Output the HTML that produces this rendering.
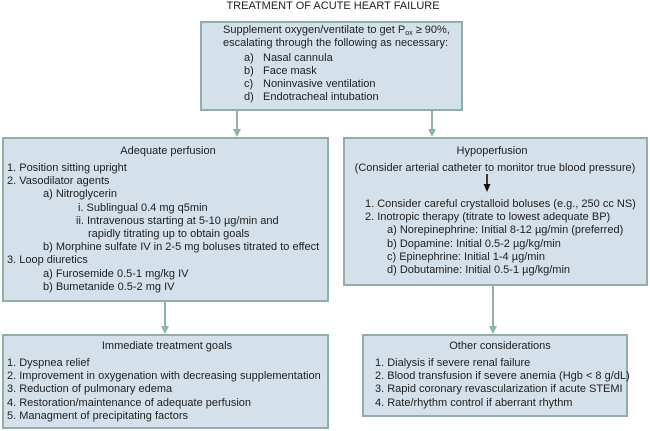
<!DOCTYPE html>
<html>
<head>
<meta charset="utf-8">
<style>
  html, body { margin:0; padding:0; }
  body { width:650px; height:431px; position:relative; background:#ffffff; overflow:hidden;
         font-family:"Liberation Sans", Arial, sans-serif; font-size:11px; color:#1e1e1e; }
  .box { position:absolute; box-sizing:border-box; background:#d4e0ea; border:2px solid #92aeaa; }
  .t { position:absolute; white-space:nowrap; line-height:13px; }
  .c { text-align:center; }
  sub { font-size:7px; vertical-align:-2px; line-height:0; }
  svg { position:absolute; left:0; top:0; }
</style>
</head>
<body>
  <!-- Title -->
  <div class="t c" style="left:183px; top:0px; width:300px;">TREATMENT OF ACUTE HEART FAILURE</div>

  <!-- Boxes -->
  <div class="box" style="left:200px; top:21px; width:263px; height:90px;"></div>
  <div class="box" style="left:2px; top:137px; width:327px; height:165px;"></div>
  <div class="box" style="left:343px; top:137px; width:305px; height:149px;"></div>
  <div class="box" style="left:2px; top:334px; width:327px; height:95px;"></div>
  <div class="box" style="left:362px; top:334px; width:266px; height:83px;"></div>

  <!-- Connectors -->
  <svg width="650" height="431" viewBox="0 0 650 431">
    <g stroke="#8fb2a9" stroke-width="2" fill="none">
      <line x1="237" y1="111" x2="237" y2="130"/>
      <line x1="432" y1="111" x2="432" y2="130"/>
      <line x1="165" y1="302" x2="165" y2="327"/>
      <line x1="493" y1="286" x2="493" y2="327"/>
    </g>
    <g fill="#8fb2a9">
      <polygon points="233,129 241,129 237,137"/>
      <polygon points="428,129 436,129 432,137"/>
      <polygon points="161,326 169,326 165,334"/>
      <polygon points="489,326 497,326 493,334"/>
    </g>
    <line x1="487" y1="174" x2="487" y2="185" stroke="#111" stroke-width="1.6"/>
    <polygon points="483.5,184 490.5,184 487,192" fill="#111"/>
  </svg>

  <!-- Top box text -->
  <div class="t" style="left:223px; top:24px;">Supplement oxygen/ventilate to get P<sub>ox</sub> &#8805; 90%,</div>
  <div class="t" style="left:223px; top:37px;">escalating through the following as necessary:</div>
  <div class="t" style="left:244px; top:52px;">a)</div><div class="t" style="left:263px; top:52px;">Nasal cannula</div>
  <div class="t" style="left:244px; top:65px;">b)</div><div class="t" style="left:263px; top:65px;">Face mask</div>
  <div class="t" style="left:244px; top:78px;">c)</div><div class="t" style="left:263px; top:78px;">Noninvasive ventilation</div>
  <div class="t" style="left:244px; top:90.5px;">d)</div><div class="t" style="left:263px; top:90.5px;">Endotracheal intubation</div>

  <!-- Adequate perfusion -->
  <div class="t c" style="left:68px; top:145px; width:200px;">Adequate perfusion</div>
  <div class="t" style="left:7px; top:162px;">1. Position sitting upright</div>
  <div class="t" style="left:7px; top:175.2px;">2. Vasodilator agents</div>
  <div class="t" style="left:43px; top:188.4px;">a) Nitroglycerin</div>
  <div class="t" style="left:78px; top:201.6px;">i. Sublingual 0.4 mg q5min</div>
  <div class="t" style="left:76px; top:214.8px;">ii. Intravenous starting at 5-10 &#181;g/min and</div>
  <div class="t" style="left:88px; top:228px;">rapidly titrating up to obtain goals</div>
  <div class="t" style="left:43px; top:241.2px;">b) Morphine sulfate IV in 2-5 mg boluses titrated to effect</div>
  <div class="t" style="left:7px; top:254.4px;">3. Loop diuretics</div>
  <div class="t" style="left:43px; top:267.6px;">a) Furosemide 0.5-1 mg/kg IV</div>
  <div class="t" style="left:43px; top:280.8px;">b) Bumetanide 0.5-2 mg IV</div>

  <!-- Hypoperfusion -->
  <div class="t c" style="left:392px; top:145px; width:200px;">Hypoperfusion</div>
  <div class="t c" style="left:345px; top:162px; width:300px;">(Consider arterial catheter to monitor true blood pressure)</div>
  <div class="t" style="left:365px; top:198px;">1. Consider careful crystalloid boluses (e.g., 250 cc NS)</div>
  <div class="t" style="left:365px; top:211.2px;">2. Inotropic therapy (titrate to lowest adequate BP)</div>
  <div class="t" style="left:387px; top:224.4px;">a) Norepinephrine: Initial 8-12 &#181;g/min (preferred)</div>
  <div class="t" style="left:387px; top:237.6px;">b) Dopamine: Initial 0.5-2 &#181;g/kg/min</div>
  <div class="t" style="left:387px; top:250.8px;">c) Epinephrine: Initial 1-4 &#181;g/min</div>
  <div class="t" style="left:387px; top:264px;">d) Dobutamine: Initial 0.5-1 &#181;g/kg/min</div>

  <!-- Immediate treatment goals -->
  <div class="t c" style="left:67px; top:340px; width:200px;">Immediate treatment goals</div>
  <div class="t" style="left:7px; top:357px;">1. Dyspnea relief</div>
  <div class="t" style="left:7px; top:370.2px;">2. Improvement in oxygenation with decreasing supplementation</div>
  <div class="t" style="left:7px; top:383.4px;">3. Reduction of pulmonary edema</div>
  <div class="t" style="left:7px; top:396.6px;">4. Restoration/maintenance of adequate perfusion</div>
  <div class="t" style="left:7px; top:409.8px;">5. Managment of precipitating factors</div>

  <!-- Other considerations -->
  <div class="t c" style="left:400px; top:340px; width:200px;">Other considerations</div>
  <div class="t" style="left:375px; top:357px;">1. Dialysis if severe renal failure</div>
  <div class="t" style="left:375px; top:370.2px;">2. Blood transfusion if severe anemia (Hgb &lt; 8 g/dL)</div>
  <div class="t" style="left:375px; top:383.4px;">3. Rapid coronary revascularization if acute STEMI</div>
  <div class="t" style="left:375px; top:396.6px;">4. Rate/rhythm control if aberrant rhythm</div>
</body>
</html>
